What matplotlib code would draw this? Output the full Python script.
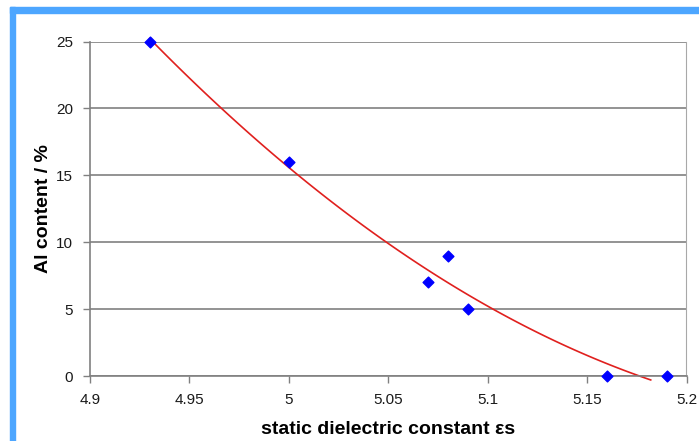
import numpy as np
import matplotlib.pyplot as plt
from matplotlib.patches import Rectangle

# measured points
eps_s = [4.93, 5.00, 5.07, 5.08, 5.09, 5.16, 5.19]
al_content = [25, 16, 7, 9, 5, 0, 0]

x_ticks = [4.9, 4.95, 5.0, 5.05, 5.1, 5.15, 5.2]
x_tick_labels = ['4.9', '4.95', '5', '5.05', '5.1', '5.15', '5.2']
y_ticks = [0, 5, 10, 15, 20, 25]

# quadratic trend line, as the spreadsheet draws it
coef = np.polyfit(eps_s, al_content, 2)
x_fit = np.linspace(4.93, 5.182, 100)
y_fit = np.polyval(coef, x_fit)

plt.rcParams['font.family'] = ['Liberation Sans', 'DejaVu Sans']

fig = plt.figure(figsize=(6.99, 4.41), dpi=100)
fig.patch.set_facecolor('white')

# blue frame on the left and top
fig.add_artist(Rectangle((10 / 699, 0), 5 / 699, 1 - 7 / 441, transform=fig.transFigure,
                         color='#4da6ff', zorder=0))
fig.add_artist(Rectangle((10 / 699, 1 - 13 / 441), 1, 6 / 441, transform=fig.transFigure,
                         color='#4da6ff', zorder=0))

ax = fig.add_axes([90 / 699, 1 - 376 / 441, 596.5 / 699, 334.5 / 441])

ax.plot(x_fit, y_fit, color='#e0201e', linewidth=1.2, zorder=2, clip_on=False)
ax.scatter(eps_s, al_content, marker='D', s=30, color='#0000ff', zorder=3, clip_on=False)

ax.set_xlim(4.9, 5.2)
ax.set_ylim(0, 25)
ax.set_xticks(x_ticks)
ax.set_xticklabels(x_tick_labels)
ax.set_yticks(y_ticks)

ax.yaxis.grid(True, color='#808080', linewidth=1.2)
ax.set_axisbelow(True)

for side in ['left', 'bottom']:
    ax.spines[side].set_color('#808080')
    ax.spines[side].set_linewidth(1.2)
ax.spines['right'].set_color('#a8a8a8')
ax.spines['top'].set_visible(False)

ax.tick_params(direction='out', length=5, width=1, color='#808080',
               labelsize=11, labelcolor='#1a1a1a', pad=7)

ax.set_xlabel('static dielectric constant εs', fontsize=14, fontweight='bold', labelpad=10)
ax.set_ylabel('Al content / %', fontsize=14, fontweight='bold', labelpad=3)

fig.savefig('out.png', dpi=100, facecolor='white')
